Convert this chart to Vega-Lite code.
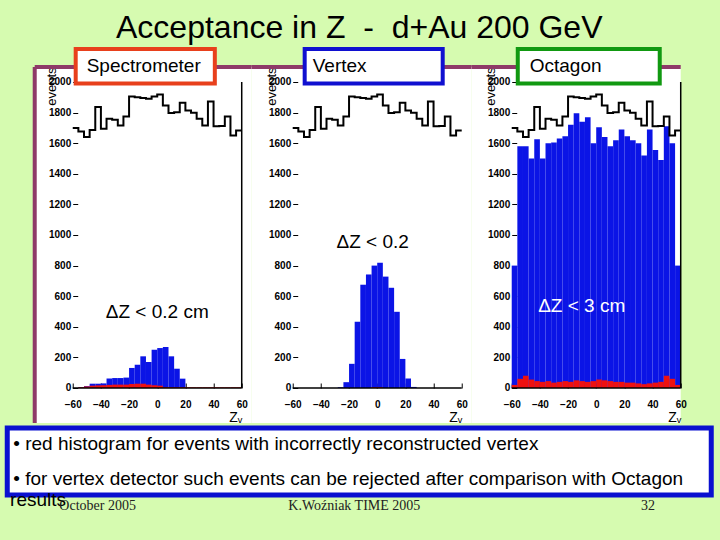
{
  "$schema": "https://vega.github.io/schema/vega-lite/v6.json",
  "background": "#d6fbb0",
  "padding": {"left": 4, "right": 12, "top": 11, "bottom": 40},
  "title": {"text": "Acceptance in Z \u00a0-\u00a0 d+Au 200 GeV", "fontSize": 32, "fontWeight": "normal", "font": "Liberation Sans", "color": "black", "anchor": "middle", "offset": 2},
  "config": {
    "font": "Liberation Sans",
    "view": {"stroke": null},
    "axis": {"labelColor": "black", "titleColor": "black", "tickColor": "black", "grid": false, "labelFont": "Liberation Sans", "titleFont": "Liberation Sans", "labelOverlap": false, "labelBound": false, "labelFlush": false}
  },
  "datasets": {
    "all": [
      {"z": -60, "z2": -56, "n": 1700}, {"z": -56, "z2": -52, "n": 1676}, {"z": -52, "z2": -48, "n": 1640},
      {"z": -48, "z2": -44, "n": 1687}, {"z": -44, "z2": -40, "n": 1836}, {"z": -40, "z2": -36, "n": 1694},
      {"z": -36, "z2": -32, "n": 1760}, {"z": -32, "z2": -28, "n": 1753}, {"z": -28, "z2": -24, "n": 1716},
      {"z": -24, "z2": -20, "n": 1775}, {"z": -20, "z2": -16, "n": 1906}, {"z": -16, "z2": -12, "n": 1900},
      {"z": -12, "z2": -8, "n": 1895}, {"z": -8, "z2": -4, "n": 1890}, {"z": -4, "z2": 0, "n": 1906},
      {"z": 0, "z2": 4, "n": 1919}, {"z": 4, "z2": 8, "n": 1847}, {"z": 8, "z2": 12, "n": 1797},
      {"z": 12, "z2": 16, "n": 1803}, {"z": 16, "z2": 20, "n": 1864}, {"z": 20, "z2": 24, "n": 1814},
      {"z": 24, "z2": 28, "n": 1799}, {"z": 28, "z2": 32, "n": 1760}, {"z": 32, "z2": 36, "n": 1716},
      {"z": 36, "z2": 40, "n": 1873}, {"z": 40, "z2": 44, "n": 1710}, {"z": 44, "z2": 48, "n": 1712},
      {"z": 48, "z2": 52, "n": 1775}, {"z": 52, "z2": 56, "n": 1650}, {"z": 56, "z2": 60, "n": 1683}
    ],
    "sel": [
      {"det": "Spectrometer", "z": -60, "z2": -56, "good": 0, "bad": 0},
      {"det": "Spectrometer", "z": -56, "z2": -52, "good": 5, "bad": 5},
      {"det": "Spectrometer", "z": -52, "z2": -48, "good": 12, "bad": 10},
      {"det": "Spectrometer", "z": -48, "z2": -44, "good": 28, "bad": 15},
      {"det": "Spectrometer", "z": -44, "z2": -40, "good": 28, "bad": 17},
      {"det": "Spectrometer", "z": -40, "z2": -36, "good": 30, "bad": 18},
      {"det": "Spectrometer", "z": -36, "z2": -32, "good": 62, "bad": 20},
      {"det": "Spectrometer", "z": -32, "z2": -28, "good": 65, "bad": 22},
      {"det": "Spectrometer", "z": -28, "z2": -24, "good": 65, "bad": 22},
      {"det": "Spectrometer", "z": -24, "z2": -20, "good": 68, "bad": 22},
      {"det": "Spectrometer", "z": -20, "z2": -16, "good": 131, "bad": 26},
      {"det": "Spectrometer", "z": -16, "z2": -12, "good": 152, "bad": 28},
      {"det": "Spectrometer", "z": -12, "z2": -8, "good": 207, "bad": 28},
      {"det": "Spectrometer", "z": -8, "z2": -4, "good": 170, "bad": 22},
      {"det": "Spectrometer", "z": -4, "z2": 0, "good": 250, "bad": 18},
      {"det": "Spectrometer", "z": 0, "z2": 4, "good": 261, "bad": 15},
      {"det": "Spectrometer", "z": 4, "z2": 8, "good": 268, "bad": 6},
      {"det": "Spectrometer", "z": 8, "z2": 12, "good": 207, "bad": 5},
      {"det": "Spectrometer", "z": 12, "z2": 16, "good": 126, "bad": 5},
      {"det": "Spectrometer", "z": 16, "z2": 20, "good": 61, "bad": 5},
      {"det": "Spectrometer", "z": 20, "z2": 24, "good": 0, "bad": 5},
      {"det": "Spectrometer", "z": 24, "z2": 28, "good": 0, "bad": 5},
      {"det": "Spectrometer", "z": 28, "z2": 32, "good": 0, "bad": 5},
      {"det": "Spectrometer", "z": 32, "z2": 36, "good": 0, "bad": 5},
      {"det": "Spectrometer", "z": 36, "z2": 40, "good": 0, "bad": 5},
      {"det": "Spectrometer", "z": 40, "z2": 44, "good": 0, "bad": 5},
      {"det": "Spectrometer", "z": 44, "z2": 48, "good": 0, "bad": 5},
      {"det": "Spectrometer", "z": 48, "z2": 52, "good": 0, "bad": 5},
      {"det": "Spectrometer", "z": 52, "z2": 56, "good": 0, "bad": 5},
      {"det": "Spectrometer", "z": 56, "z2": 60, "good": 0, "bad": 5},
      {"det": "Vertex", "z": -60, "z2": -56, "good": 0, "bad": 0},
      {"det": "Vertex", "z": -56, "z2": -52, "good": 0, "bad": 0},
      {"det": "Vertex", "z": -52, "z2": -48, "good": 0, "bad": 0},
      {"det": "Vertex", "z": -48, "z2": -44, "good": 0, "bad": 0},
      {"det": "Vertex", "z": -44, "z2": -40, "good": 0, "bad": 0},
      {"det": "Vertex", "z": -40, "z2": -36, "good": 0, "bad": 0},
      {"det": "Vertex", "z": -36, "z2": -32, "good": 0, "bad": 0},
      {"det": "Vertex", "z": -32, "z2": -28, "good": 0, "bad": 0},
      {"det": "Vertex", "z": -28, "z2": -24, "good": 5, "bad": 0},
      {"det": "Vertex", "z": -24, "z2": -20, "good": 38, "bad": 0},
      {"det": "Vertex", "z": -20, "z2": -16, "good": 158, "bad": 0},
      {"det": "Vertex", "z": -16, "z2": -12, "good": 433, "bad": 0},
      {"det": "Vertex", "z": -12, "z2": -8, "good": 675, "bad": 0},
      {"det": "Vertex", "z": -8, "z2": -4, "good": 742, "bad": 0},
      {"det": "Vertex", "z": -4, "z2": 0, "good": 800, "bad": 5},
      {"det": "Vertex", "z": 0, "z2": 4, "good": 818, "bad": 5},
      {"det": "Vertex", "z": 4, "z2": 8, "good": 728, "bad": 0},
      {"det": "Vertex", "z": 8, "z2": 12, "good": 655, "bad": 0},
      {"det": "Vertex", "z": 12, "z2": 16, "good": 498, "bad": 0},
      {"det": "Vertex", "z": 16, "z2": 20, "good": 190, "bad": 0},
      {"det": "Vertex", "z": 20, "z2": 24, "good": 62, "bad": 0},
      {"det": "Vertex", "z": 24, "z2": 28, "good": 7, "bad": 0},
      {"det": "Vertex", "z": 28, "z2": 32, "good": 0, "bad": 0},
      {"det": "Vertex", "z": 32, "z2": 36, "good": 0, "bad": 0},
      {"det": "Vertex", "z": 36, "z2": 40, "good": 0, "bad": 0},
      {"det": "Vertex", "z": 40, "z2": 44, "good": 0, "bad": 0},
      {"det": "Vertex", "z": 44, "z2": 48, "good": 0, "bad": 0},
      {"det": "Vertex", "z": 48, "z2": 52, "good": 0, "bad": 0},
      {"det": "Vertex", "z": 52, "z2": 56, "good": 0, "bad": 0},
      {"det": "Vertex", "z": 56, "z2": 60, "good": 0, "bad": 0},
      {"det": "Octagon", "z": -60, "z2": -56, "good": 800, "bad": 20},
      {"det": "Octagon", "z": -56, "z2": -52, "good": 1580, "bad": 60},
      {"det": "Octagon", "z": -52, "z2": -48, "good": 1580, "bad": 80},
      {"det": "Octagon", "z": -48, "z2": -44, "good": 1500, "bad": 55},
      {"det": "Octagon", "z": -44, "z2": -40, "good": 1625, "bad": 45},
      {"det": "Octagon", "z": -40, "z2": -36, "good": 1500, "bad": 40},
      {"det": "Octagon", "z": -36, "z2": -32, "good": 1600, "bad": 45},
      {"det": "Octagon", "z": -32, "z2": -28, "good": 1605, "bad": 35},
      {"det": "Octagon", "z": -28, "z2": -24, "good": 1630, "bad": 40},
      {"det": "Octagon", "z": -24, "z2": -20, "good": 1645, "bad": 45},
      {"det": "Octagon", "z": -20, "z2": -16, "good": 1720, "bad": 40},
      {"det": "Octagon", "z": -16, "z2": -12, "good": 1795, "bad": 50},
      {"det": "Octagon", "z": -12, "z2": -8, "good": 1740, "bad": 45},
      {"det": "Octagon", "z": -8, "z2": -4, "good": 1770, "bad": 40},
      {"det": "Octagon", "z": -4, "z2": 0, "good": 1600, "bad": 45},
      {"det": "Octagon", "z": 0, "z2": 4, "good": 1705, "bad": 55},
      {"det": "Octagon", "z": 4, "z2": 8, "good": 1640, "bad": 50},
      {"det": "Octagon", "z": 8, "z2": 12, "good": 1580, "bad": 45},
      {"det": "Octagon", "z": 12, "z2": 16, "good": 1620, "bad": 40},
      {"det": "Octagon", "z": 16, "z2": 20, "good": 1690, "bad": 40},
      {"det": "Octagon", "z": 20, "z2": 24, "good": 1645, "bad": 35},
      {"det": "Octagon", "z": 24, "z2": 28, "good": 1620, "bad": 35},
      {"det": "Octagon", "z": 28, "z2": 32, "good": 1600, "bad": 30},
      {"det": "Octagon", "z": 32, "z2": 36, "good": 1520, "bad": 25},
      {"det": "Octagon", "z": 36, "z2": 40, "good": 1690, "bad": 30},
      {"det": "Octagon", "z": 40, "z2": 44, "good": 1555, "bad": 35},
      {"det": "Octagon", "z": 44, "z2": 48, "good": 1490, "bad": 40},
      {"det": "Octagon", "z": 48, "z2": 52, "good": 1710, "bad": 80},
      {"det": "Octagon", "z": 52, "z2": 56, "good": 1600, "bad": 60},
      {"det": "Octagon", "z": 56, "z2": 60, "good": 800, "bad": 20}
    ],
    "labels": [
      {"det": "Spectrometer", "label": "Spectrometer", "note": "ΔZ < 0.2 cm"},
      {"det": "Vertex", "label": "Vertex", "note": "ΔZ < 0.2"},
      {"det": "Octagon", "label": "Octagon", "note": "ΔZ < 3 cm"}
    ],
    "bullets": [
      {"line": 1, "text": "• red histogram for events with incorrectly reconstructed vertex"},
      {"line": 2, "text": "• for vertex detector such events can be rejected after comparison with Octagon"}
    ],
    "footer": [
      {"item": "results", "text": "results"},
      {"item": "date", "text": "October 2005"},
      {"item": "author", "text": "K.Woźniak TIME 2005"},
      {"item": "page", "text": "32"}
    ]
  },
  "spacing": 0,
  "center": true,
  "vconcat": [
    {
      "spacing": 0,
      "bounds": "flush",
      "hconcat": [
        {
          "width": 217, "height": 356,
          "view": {"fill": "white", "stroke": null},
          "layer": [
            {
              "data": {"name": "sel"}, "transform": [{"filter": "datum.det === 'Spectrometer'"}],
              "mark": {"type": "rect", "color": "#0b14e6"},
              "encoding": {
                "x": {"field": "z", "type": "quantitative", "title": "Zᵥ", "scale": {"domain": [-87, 67.1], "nice": false, "zero": false},
                  "axis": {"orient": "bottom", "offset": -35, "domain": false, "values": [-60, -40, -20, 0, 20, 40, 60], "tickCount": 20, "format": "d", "tickSize": -5, "labelPadding": 16, "labelFontSize": 10, "labelFontWeight": "bold", "labelOverlap": false, "titleAnchor": "end", "titleX": 207, "titleAlign": "right", "titleFontSize": 14, "titleFontWeight": "normal", "titlePadding": 1}},
                "x2": {"field": "z2"},
                "y": {"field": "good", "type": "quantitative", "title": "events", "scale": {"domain": [-228.8, 2098], "nice": false, "zero": false},
                  "axis": {"orient": "left", "offset": -38, "domain": false, "values": [0, 200, 400, 600, 800, 1000, 1200, 1400, 1600, 1800, 2000], "tickCount": 30, "format": "d", "tickSize": -5, "labelPadding": 7, "labelFontSize": 10, "labelFontWeight": "bold", "labelOverlap": false, "titleAnchor": "end", "titleFontSize": 13, "titleFontWeight": "normal", "titlePadding": -10}},
                "y2": {"datum": 0}
              }
            },
            {
              "data": {"name": "sel"}, "transform": [{"filter": "datum.det === 'Spectrometer'"}],
              "mark": {"type": "rect", "color": "#ee1111"},
              "encoding": {"x": {"field": "z", "type": "quantitative"}, "x2": {"field": "z2"}, "y": {"field": "bad", "type": "quantitative"}, "y2": {"datum": 0}}
            },
            {
              "data": {"name": "all"}, "transform": [{"fold": ["z", "z2"], "as": ["edge", "zpos"]}],
              "mark": {"type": "line", "color": "black", "strokeWidth": 2},
              "encoding": {"x": {"field": "zpos", "type": "quantitative"}, "y": {"field": "n", "type": "quantitative"}, "order": [{"field": "zpos", "type": "quantitative"}, {"field": "z", "type": "quantitative"}]}
            },
            {
              "data": {"name": "labels"}, "transform": [{"filter": "datum.det === 'Spectrometer'"}],
              "layer": [
                {"mark": {"type": "rule", "color": "black", "strokeWidth": 1.5}, "encoding": {"x": {"datum": -60}, "x2": {"datum": 60}, "y": {"datum": 0}}},
                {"mark": {"type": "rule", "color": "black", "strokeWidth": 1.5}, "encoding": {"x": {"datum": 60}, "y": {"datum": 0}, "y2": {"datum": 2000}}},
                {"mark": {"type": "rule", "color": "#8e3a68", "strokeWidth": 4}, "encoding": {"x": {"datum": -87}, "x2": {"datum": 67.1}, "y": {"datum": 2098}}},
                {"mark": {"type": "rule", "color": "#8e3a68", "strokeWidth": 4}, "encoding": {"x": {"datum": -87}, "y": {"datum": -228.8}, "y2": {"datum": 2098}}},
                {"mark": {"type": "rect", "fill": "white", "stroke": "#e8401c", "strokeWidth": 4}, "encoding": {"x": {"datum": -57.9}, "x2": {"datum": 40.9}, "y": {"datum": 2216}, "y2": {"datum": 1990}}},
                {"mark": {"type": "text", "align": "left", "baseline": "middle", "fontSize": 19, "color": "black"}, "encoding": {"x": {"datum": -50.1}, "y": {"datum": 2105}, "text": {"field": "label"}}},
                {"mark": {"type": "text", "align": "center", "baseline": "middle", "fontSize": 19, "color": "black"}, "encoding": {"x": {"datum": 0}, "y": {"datum": 497}, "text": {"field": "note"}}}
              ]
            }
          ]
        },
        {
          "width": 220, "height": 356,
          "view": {"fill": "white", "stroke": null},
          "layer": [
            {
              "data": {"name": "sel"}, "transform": [{"filter": "datum.det === 'Vertex'"}],
              "mark": {"type": "rect", "color": "#0b14e6"},
              "encoding": {
                "x": {"field": "z", "type": "quantitative", "title": "Zᵥ", "scale": {"domain": [-89.1, 67.1], "nice": false, "zero": false},
                  "axis": {"orient": "bottom", "offset": -35, "domain": false, "values": [-60, -40, -20, 0, 20, 40, 60], "tickCount": 20, "format": "d", "tickSize": -5, "labelPadding": 16, "labelFontSize": 10, "labelFontWeight": "bold", "labelOverlap": false, "titleAnchor": "end", "titleX": 210, "titleAlign": "right", "titleFontSize": 14, "titleFontWeight": "normal", "titlePadding": 1}},
                "x2": {"field": "z2"},
                "y": {"field": "good", "type": "quantitative", "title": "events", "scale": {"domain": [-228.8, 2098], "nice": false, "zero": false},
                  "axis": {"orient": "left", "offset": -41, "domain": false, "values": [0, 200, 400, 600, 800, 1000, 1200, 1400, 1600, 1800, 2000], "tickCount": 30, "format": "d", "tickSize": -5, "labelPadding": 7, "labelFontSize": 10, "labelFontWeight": "bold", "labelOverlap": false, "titleAnchor": "end", "titleFontSize": 13, "titleFontWeight": "normal", "titlePadding": -10}},
                "y2": {"datum": 0}
              }
            },
            {
              "data": {"name": "sel"}, "transform": [{"filter": "datum.det === 'Vertex'"}],
              "mark": {"type": "rect", "color": "#ee1111"},
              "encoding": {"x": {"field": "z", "type": "quantitative"}, "x2": {"field": "z2"}, "y": {"field": "bad", "type": "quantitative"}, "y2": {"datum": 0}}
            },
            {
              "data": {"name": "all"}, "transform": [{"fold": ["z", "z2"], "as": ["edge", "zpos"]}],
              "mark": {"type": "line", "color": "black", "strokeWidth": 2},
              "encoding": {"x": {"field": "zpos", "type": "quantitative"}, "y": {"field": "n", "type": "quantitative"}, "order": [{"field": "zpos", "type": "quantitative"}, {"field": "z", "type": "quantitative"}]}
            },
            {
              "data": {"name": "labels"}, "transform": [{"filter": "datum.det === 'Vertex'"}],
              "layer": [
                {"mark": {"type": "rule", "color": "black", "strokeWidth": 1.5}, "encoding": {"x": {"datum": -60}, "x2": {"datum": 60}, "y": {"datum": 0}}},
                {"mark": {"type": "rule", "color": "#8e3a68", "strokeWidth": 4}, "encoding": {"x": {"datum": -89.1}, "x2": {"datum": 67.1}, "y": {"datum": 2098}}},
                {"mark": {"type": "rect", "fill": "white", "stroke": "#1010d0", "strokeWidth": 4}, "encoding": {"x": {"datum": -51.5}, "x2": {"datum": 46.5}, "y": {"datum": 2216}, "y2": {"datum": 1990}}},
                {"mark": {"type": "text", "align": "left", "baseline": "middle", "fontSize": 19, "color": "black"}, "encoding": {"x": {"datum": -45.8}, "y": {"datum": 2105}, "text": {"field": "label"}}},
                {"mark": {"type": "text", "align": "center", "baseline": "middle", "fontSize": 19, "color": "black"}, "encoding": {"x": {"datum": -3.2}, "y": {"datum": 954}, "text": {"field": "note"}}}
              ]
            }
          ]
        },
        {
          "width": 209, "height": 356,
          "view": {"fill": "white", "stroke": null},
          "layer": [
            {
              "data": {"name": "sel"}, "transform": [{"filter": "datum.det === 'Octagon'"}],
              "mark": {"type": "rect", "color": "#0b14e6"},
              "encoding": {
                "x": {"field": "z", "type": "quantitative", "title": "Zᵥ", "scale": {"domain": [-88.4, 60], "nice": false, "zero": false},
                  "axis": {"orient": "bottom", "offset": -35, "domain": false, "values": [-60, -40, -20, 0, 20, 40, 60], "tickCount": 20, "format": "d", "tickSize": -5, "labelPadding": 16, "labelFontSize": 10, "labelFontWeight": "bold", "labelOverlap": false, "titleAnchor": "end", "titleFontSize": 14, "titleFontWeight": "normal", "titlePadding": 1}},
                "x2": {"field": "z2"},
                "y": {"field": "good", "type": "quantitative", "title": "events", "scale": {"domain": [-228.8, 2098], "nice": false, "zero": false},
                  "axis": {"orient": "left", "offset": -40, "domain": false, "values": [0, 200, 400, 600, 800, 1000, 1200, 1400, 1600, 1800, 2000], "tickCount": 30, "format": "d", "tickSize": -5, "labelPadding": 7, "labelFontSize": 10, "labelFontWeight": "bold", "labelOverlap": false, "titleAnchor": "end", "titleFontSize": 13, "titleFontWeight": "normal", "titlePadding": -10}},
                "y2": {"datum": 0}
              }
            },
            {
              "data": {"name": "sel"}, "transform": [{"filter": "datum.det === 'Octagon'"}],
              "mark": {"type": "rect", "color": "#ee1111"},
              "encoding": {"x": {"field": "z", "type": "quantitative"}, "x2": {"field": "z2"}, "y": {"field": "bad", "type": "quantitative"}, "y2": {"datum": 0}}
            },
            {
              "data": {"name": "all"}, "transform": [{"fold": ["z", "z2"], "as": ["edge", "zpos"]}],
              "mark": {"type": "line", "color": "black", "strokeWidth": 2},
              "encoding": {"x": {"field": "zpos", "type": "quantitative"}, "y": {"field": "n", "type": "quantitative"}, "order": [{"field": "zpos", "type": "quantitative"}, {"field": "z", "type": "quantitative"}]}
            },
            {
              "data": {"name": "labels"}, "transform": [{"filter": "datum.det === 'Octagon'"}],
              "layer": [
                {"mark": {"type": "rule", "color": "black", "strokeWidth": 1.5}, "encoding": {"x": {"datum": -60}, "x2": {"datum": 60}, "y": {"datum": 0}}},
                {"mark": {"type": "rule", "color": "black", "strokeWidth": 1.5}, "encoding": {"x": {"datum": 60}, "y": {"datum": 0}, "y2": {"datum": 2000}}},
                {"mark": {"type": "rule", "color": "#8e3a68", "strokeWidth": 4}, "encoding": {"x": {"datum": -88.4}, "x2": {"datum": 60}, "y": {"datum": 2098}}},
                {"mark": {"type": "rect", "fill": "white", "stroke": "#119911", "strokeWidth": 4}, "encoding": {"x": {"datum": -55.7}, "x2": {"datum": 45.1}, "y": {"datum": 2216}, "y2": {"datum": 1990}}},
                {"mark": {"type": "text", "align": "left", "baseline": "middle", "fontSize": 19, "color": "black"}, "encoding": {"x": {"datum": -47.2}, "y": {"datum": 2105}, "text": {"field": "label"}}},
                {"mark": {"type": "text", "align": "center", "baseline": "middle", "fontSize": 19, "color": "white"}, "encoding": {"x": {"datum": -10.3}, "y": {"datum": 536}, "text": {"field": "note"}}}
              ]
            }
          ]
        }
      ]
    },
    {
      "width": 704, "height": 67,
      "view": {"fill": "white", "stroke": "#0a10d0", "strokeWidth": 5},
      "resolve": {"scale": {"y": "independent"}},
      "layer": [
        {
          "data": {"name": "bullets"},
          "mark": {"type": "text", "align": "left", "baseline": "middle", "fontSize": 19, "dx": 6, "color": "black"},
          "encoding": {
            "x": {"datum": 0, "type": "quantitative", "scale": {"domain": [0, 1]}, "axis": null},
            "y": {"field": "line", "type": "ordinal", "scale": {"type": "point", "padding": 0.46}, "axis": null},
            "text": {"field": "text"}
          }
        },
        {
          "data": {"name": "footer"},
          "transform": [{"filter": "datum.item === 'results'"}],
          "mark": {"type": "text", "align": "left", "baseline": "middle", "fontSize": 19, "color": "black"},
          "encoding": {
            "x": {"datum": 0.004, "type": "quantitative", "scale": {"domain": [0, 1]}, "axis": null},
            "y": {"datum": 1.07, "type": "quantitative", "scale": {"domain": [0, 1], "reverse": true}, "axis": null},
            "text": {"field": "text"}
          }
        },
        {
          "data": {"name": "footer"},
          "transform": [{"filter": "datum.item !== 'results'"}],
          "layer": [
            {"transform": [{"filter": "datum.item === 'date'"}], "mark": {"type": "text", "align": "left", "baseline": "middle", "fontSize": 14, "font": "Liberation Serif", "color": "#222222"},
             "encoding": {"x": {"datum": 0.074}, "y": {"datum": 1.16, "type": "quantitative", "scale": {"domain": [0, 1], "reverse": true}, "axis": null}, "text": {"field": "text"}}},
            {"transform": [{"filter": "datum.item === 'author'"}], "mark": {"type": "text", "align": "center", "baseline": "middle", "fontSize": 14, "font": "Liberation Serif", "color": "#222222"},
             "encoding": {"x": {"datum": 0.493}, "y": {"datum": 1.16, "type": "quantitative"}, "text": {"field": "text"}}},
            {"transform": [{"filter": "datum.item === 'page'"}], "mark": {"type": "text", "align": "center", "baseline": "middle", "fontSize": 14, "font": "Liberation Serif", "color": "#222222"},
             "encoding": {"x": {"datum": 0.91}, "y": {"datum": 1.16, "type": "quantitative"}, "text": {"field": "text"}}}
          ]
        }
      ]
    }
  ]
}
